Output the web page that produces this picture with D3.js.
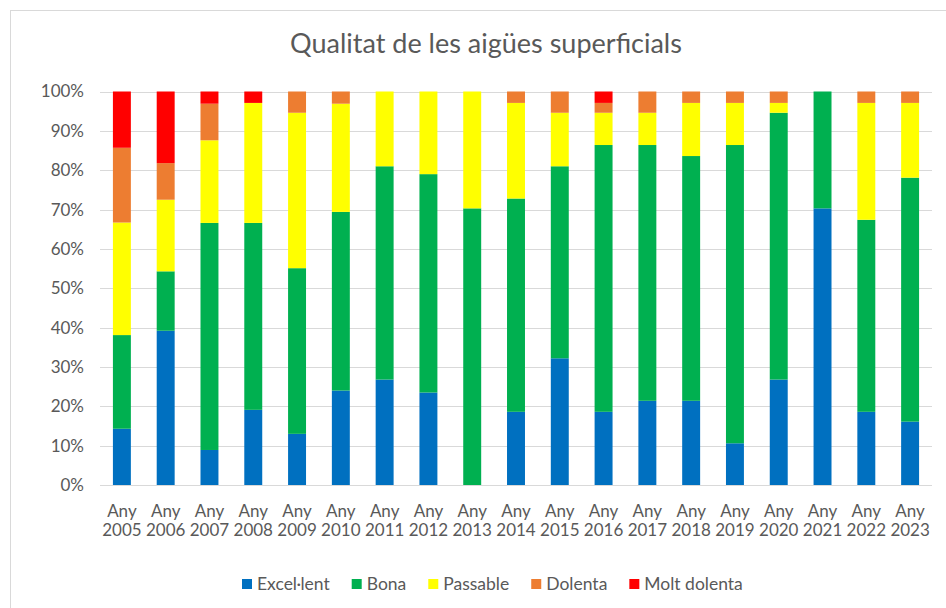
<!DOCTYPE html>
<html>
<head>
<meta charset="utf-8">
<script src="https://cdn.jsdelivr.net/npm/d3@7"></script>
<style>
  body { margin: 0; background: #fff; }
  text { font-family: Lato, "Open Sans", sans-serif; fill: #595959; }
</style>
</head>
<body>
<svg id="chart" width="946" height="608"></svg>
<script>
// Qualitat de les aigües superficials (percentatge per any)
let years = ["2005","2006","2007","2008","2009","2010","2011","2012","2013","2014",
             "2015","2016","2017","2018","2019","2020","2021","2022","2023"];

let excellent = [14.3, 39.2,  8.9, 19.1, 13.0, 24.0, 26.8, 23.5,  0.0, 18.6, 32.2, 18.6, 21.4, 21.4, 10.6, 26.8, 70.3, 18.6, 16.1];
let bona      = [23.8, 15.1, 57.7, 47.5, 42.1, 45.4, 54.2, 55.5, 70.3, 54.2, 48.8, 67.8, 65.0, 62.2, 75.8, 67.8, 29.7, 48.8, 62.0];
let passable  = [28.6, 18.2, 21.0, 30.5, 39.5, 27.5, 19.0, 21.0, 29.7, 24.3, 13.6,  8.2,  8.2, 13.5, 10.7,  2.5,  0.0, 29.7, 19.0];
let dolenta   = [19.0,  9.3,  9.3,  0.0,  5.4,  3.1,  0.0,  0.0,  0.0,  2.9,  5.4,  2.5,  5.4,  2.9,  2.9,  2.9,  0.0,  2.9,  2.9];
let moltDol   = [14.3, 18.2,  3.1,  2.9,  0.0,  0.0,  0.0,  0.0,  0.0,  0.0,  0.0,  2.9,  0.0,  0.0,  0.0,  0.0,  0.0,  0.0,  0.0];

let seriesNames  = ["Excel·lent", "Bona", "Passable", "Dolenta", "Molt dolenta"];
let seriesColors = ["#0070C0", "#00B050", "#FFFF00", "#ED7D31", "#FF0000"];
let yTicks = [0, 10, 20, 30, 40, 50, 60, 70, 80, 90, 100];

let svg = d3.select("#chart");

// outer chart border (Excel chart area)
svg.append("rect")
  .attr("x", 10.5).attr("y", 10.5)
  .attr("width", 960).attr("height", 620)
  .style("fill", "none")
  .style("stroke", "#D9D9D9")
  .style("stroke-width", 1);

let rows = years.map(function(y, i){
  return {year: y, s0: excellent[i], s1: bona[i], s2: passable[i], s3: dolenta[i], s4: moltDol[i]};
});
let keys = ["s0","s1","s2","s3","s4"];
let stacked = d3.stack().keys(keys)(rows);

let x = d3.scaleBand().domain(years).range([100, 932]).paddingInner(0.59).paddingOuter(0.295);
let y = d3.scaleLinear().domain([0, 100]).range([485, 91.5]);

// gridlines
svg.append("g").attr("class", "grid")
  .selectAll("line")
  .data(yTicks)
  .enter().append("line")
    .attr("x1", 100).attr("x2", 932)
    .attr("y1", function(d){ return Math.round(y(d)) + 0.5; })
    .attr("y2", function(d){ return Math.round(y(d)) + 0.5; })
    .style("stroke", "#D9D9D9")
    .style("stroke-width", 1);

// bars
svg.append("g").attr("class", "bars")
  .selectAll("g")
  .data(stacked)
  .enter().append("g")
    .style("fill", function(d, i){ return seriesColors[i]; })
  .selectAll("rect")
  .data(function(d){ return d; })
  .enter().append("rect")
    .attr("x", function(d){ return x(d.data.year); })
    .attr("width", x.bandwidth())
    .attr("y", function(d){ return y(d[1]); })
    .attr("height", function(d){ return y(d[0]) - y(d[1]); });

// y axis labels
let yAxis = d3.axisLeft(y).tickValues(yTicks).tickSize(0).tickPadding(0)
  .tickFormat(function(d){ return d + "%"; });
svg.append("g")
  .attr("transform", "translate(84,0)")
  .call(yAxis)
  .call(function(g){ g.select(".domain").remove(); })
  .selectAll("text")
    .style("font-size", "17px")
    .style("font-family", "Lato, sans-serif")
    .attr("fill", "#595959");

// x axis labels (two lines)
let xAxis = d3.axisBottom(x).tickSize(0).tickFormat("");
let xg = svg.append("g").attr("transform", "translate(0,485)").call(xAxis);
xg.select(".domain").remove();
xg.selectAll(".tick").append("text")
  .attr("text-anchor", "middle")
  .style("font-size", "17px")
  .each(function(d){
    let t = d3.select(this);
    t.append("tspan").attr("x", 0).attr("y", 32).text("Any");
    t.append("tspan").attr("x", 0).attr("y", 51).text(d);
  });

// title
svg.append("text")
  .attr("x", 486).attr("y", 53)
  .attr("text-anchor", "middle")
  .style("font-size", "27px")
  .text("Qualitat de les aigües superficials");

// legend
let legend = svg.append("g").attr("class", "legend");
let lx = 242;
seriesNames.forEach(function(name, i){
  let item = legend.append("g").attr("transform", "translate(" + lx + ",579)");
  item.append("rect").attr("width", 10).attr("height", 10).style("fill", seriesColors[i]);
  let t = item.append("text").attr("x", 15).attr("y", 11).style("font-size", "17.5px").text(name);
  lx += 15 + t.node().getComputedTextLength() + 22;
});
</script>
</body>
</html>
